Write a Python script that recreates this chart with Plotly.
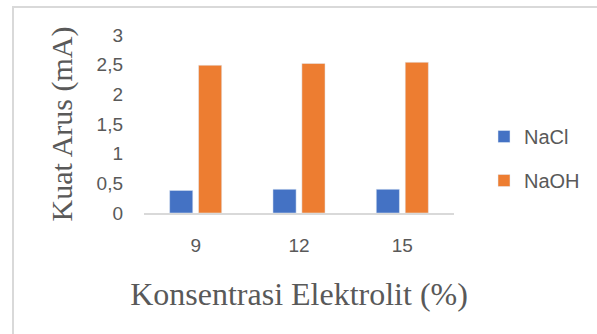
import plotly.graph_objects as go

categories = ["9", "12", "15"]
nacl = [0.38, 0.40, 0.40]
naoh = [2.49, 2.52, 2.54]
y_ticks = [0, 0.5, 1, 1.5, 2, 2.5, 3]

W, H = 597, 334
L, R, T, B = 144, 143, 35, 121
pw, ph = W - L - R, H - T - B

fig = go.Figure()
fig.add_trace(go.Bar(x=categories, y=nacl, name="NaCl", marker_color="#4472C4",
                     legendgroup="a"))
fig.add_trace(go.Bar(x=categories, y=naoh, name="NaOH", marker_color="#ED7D31",
                     legendgroup="b"))

gray = "#595959"
fig.update_layout(
    width=W, height=H,
    margin=dict(l=L, r=R, t=T, b=B, pad=0),
    paper_bgcolor="white", plot_bgcolor="white",
    separators=",.",
    barmode="group", bargap=0.44, bargroupgap=0.2,
    font=dict(family="Liberation Sans", color=gray, size=19),
    showlegend=True,
    legend=dict(x=(484 - L) / pw, xanchor="left", y=(213 - 117) / ph, yanchor="top",
                tracegroupgap=15, traceorder="grouped", itemwidth=30,
                font=dict(family="Liberation Sans", size=20, color=gray),
                bgcolor="rgba(0,0,0,0)", itemclick=False),
    xaxis=dict(type="category", showgrid=False, showline=True, linecolor="#d9d9d9",
               linewidth=2, ticks="", ticklabelstandoff=14,
               tickfont=dict(size=19, color=gray),
               title=dict(text="Konsentrasi Elektrolit (%)", standoff=28,
                          font=dict(family="Liberation Serif", size=32, color=gray))),
    yaxis=dict(range=[0, 3], tickvals=y_ticks, showgrid=False, showline=False,
               zeroline=False, ticks="", ticklabelstandoff=20,
               tickfont=dict(size=19, color=gray),
               title=dict(text="Kuat Arus (mA)", standoff=15,
                          font=dict(family="Liberation Serif", size=30, color=gray))),
    shapes=[dict(type="rect", xref="paper", yref="paper",
                 x0=(13 - L) / pw, x1=1.6, y0=(H - B - 7) / ph, y1=-1,
                 line=dict(color="#d9d9d9", width=2), fillcolor="rgba(0,0,0,0)",
                 layer="below")],
)

fig.write_html("out.html")
